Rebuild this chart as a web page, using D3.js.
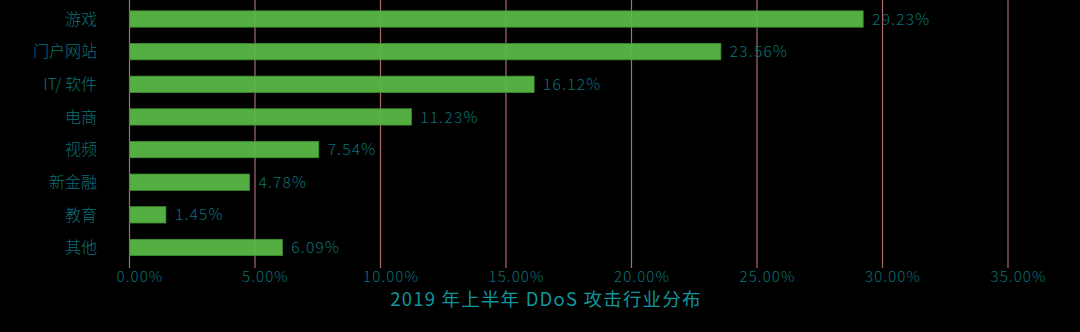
<!DOCTYPE html>
<html><head><meta charset="utf-8">
<script src="https://cdn.jsdelivr.net/npm/d3@7"></script>
<style>
html,body{margin:0;padding:0;background:#000;}
svg{display:block;font-family:"Noto Sans CJK SC","Noto Sans",sans-serif;font-weight:300;}
</style></head>
<body><svg id="c" width="1080" height="332"></svg>
<script>
const categories = ["游戏","门户网站","IT/ 软件","电商","视频","新金融","教育","其他"];
const values = [29.23, 23.56, 16.12, 11.23, 7.54, 4.78, 1.45, 6.09];
const tickValues = [0,5,10,15,20,25,30,35];
const title = "2019 年上半年 DDoS 攻击行业分布";

const svg = d3.select("#c");
const x = d3.scaleLinear().domain([0,35]).range([129.5,1008]);
const y = d3.scaleBand().domain(categories).range([2.7,263.8]).paddingInner(0.5).paddingOuter(0.25);

const textCol = "#0b7276";
const gridCol = "#a86b6e";

// grid lines
svg.append("g").selectAll("line").data(tickValues).join("line")
  .attr("x1",d=>x(d)).attr("x2",d=>x(d))
  .attr("y1",0).attr("y2",268)
  .attr("stroke",gridCol).attr("stroke-width",1.2);

// bars
svg.append("g").selectAll("rect").data(values).join("rect")
  .attr("x",x(0)).attr("y",(d,i)=>y(categories[i]))
  .attr("width",d=>x(d)-x(0)).attr("height",y.bandwidth())
  .attr("fill","#5ab946").attr("fill-opacity",0.94)
  .attr("stroke","#3f8f33").attr("stroke-width",0.8);

// value labels
svg.append("g").selectAll("text").data(values).join("text")
  .attr("x",d=>x(d)+9).attr("y",(d,i)=>y(categories[i])+y.bandwidth()/2)
  .attr("dy","0.36em").attr("fill",textCol).attr("font-size",15.5)
  .attr("letter-spacing",1.2)
  .text(d=>d.toFixed(2)+"%");

// category labels
svg.append("g").selectAll("text").data(categories).join("text")
  .attr("x",97).attr("y",d=>y(d)+y.bandwidth()/2)
  .attr("dy","0.36em").attr("text-anchor","end").attr("fill",textCol).attr("font-size",16)
  .text(d=>d);

// x axis tick labels
const xAxis = d3.axisBottom(x).tickValues(tickValues).tickSize(0).tickFormat(d=>d.toFixed(2)+"%");
const ax = svg.append("g").attr("transform","translate(0,268)").call(xAxis);
ax.select(".domain").remove();
ax.selectAll("text").attr("fill",textCol).attr("font-size",15).attr("dy","0.71em").attr("y",3).attr("x",10)
  .attr("letter-spacing",1.1)
  .style("font-family",'"Noto Sans CJK SC","Noto Sans",sans-serif').style("font-weight",300);

// title
svg.append("text").attr("x",546).attr("y",306).attr("text-anchor","middle")
  .attr("fill","#12959a").attr("font-size",18.5).attr("font-weight",400)
  .attr("letter-spacing",1.2).text(title);
</script></body></html>
